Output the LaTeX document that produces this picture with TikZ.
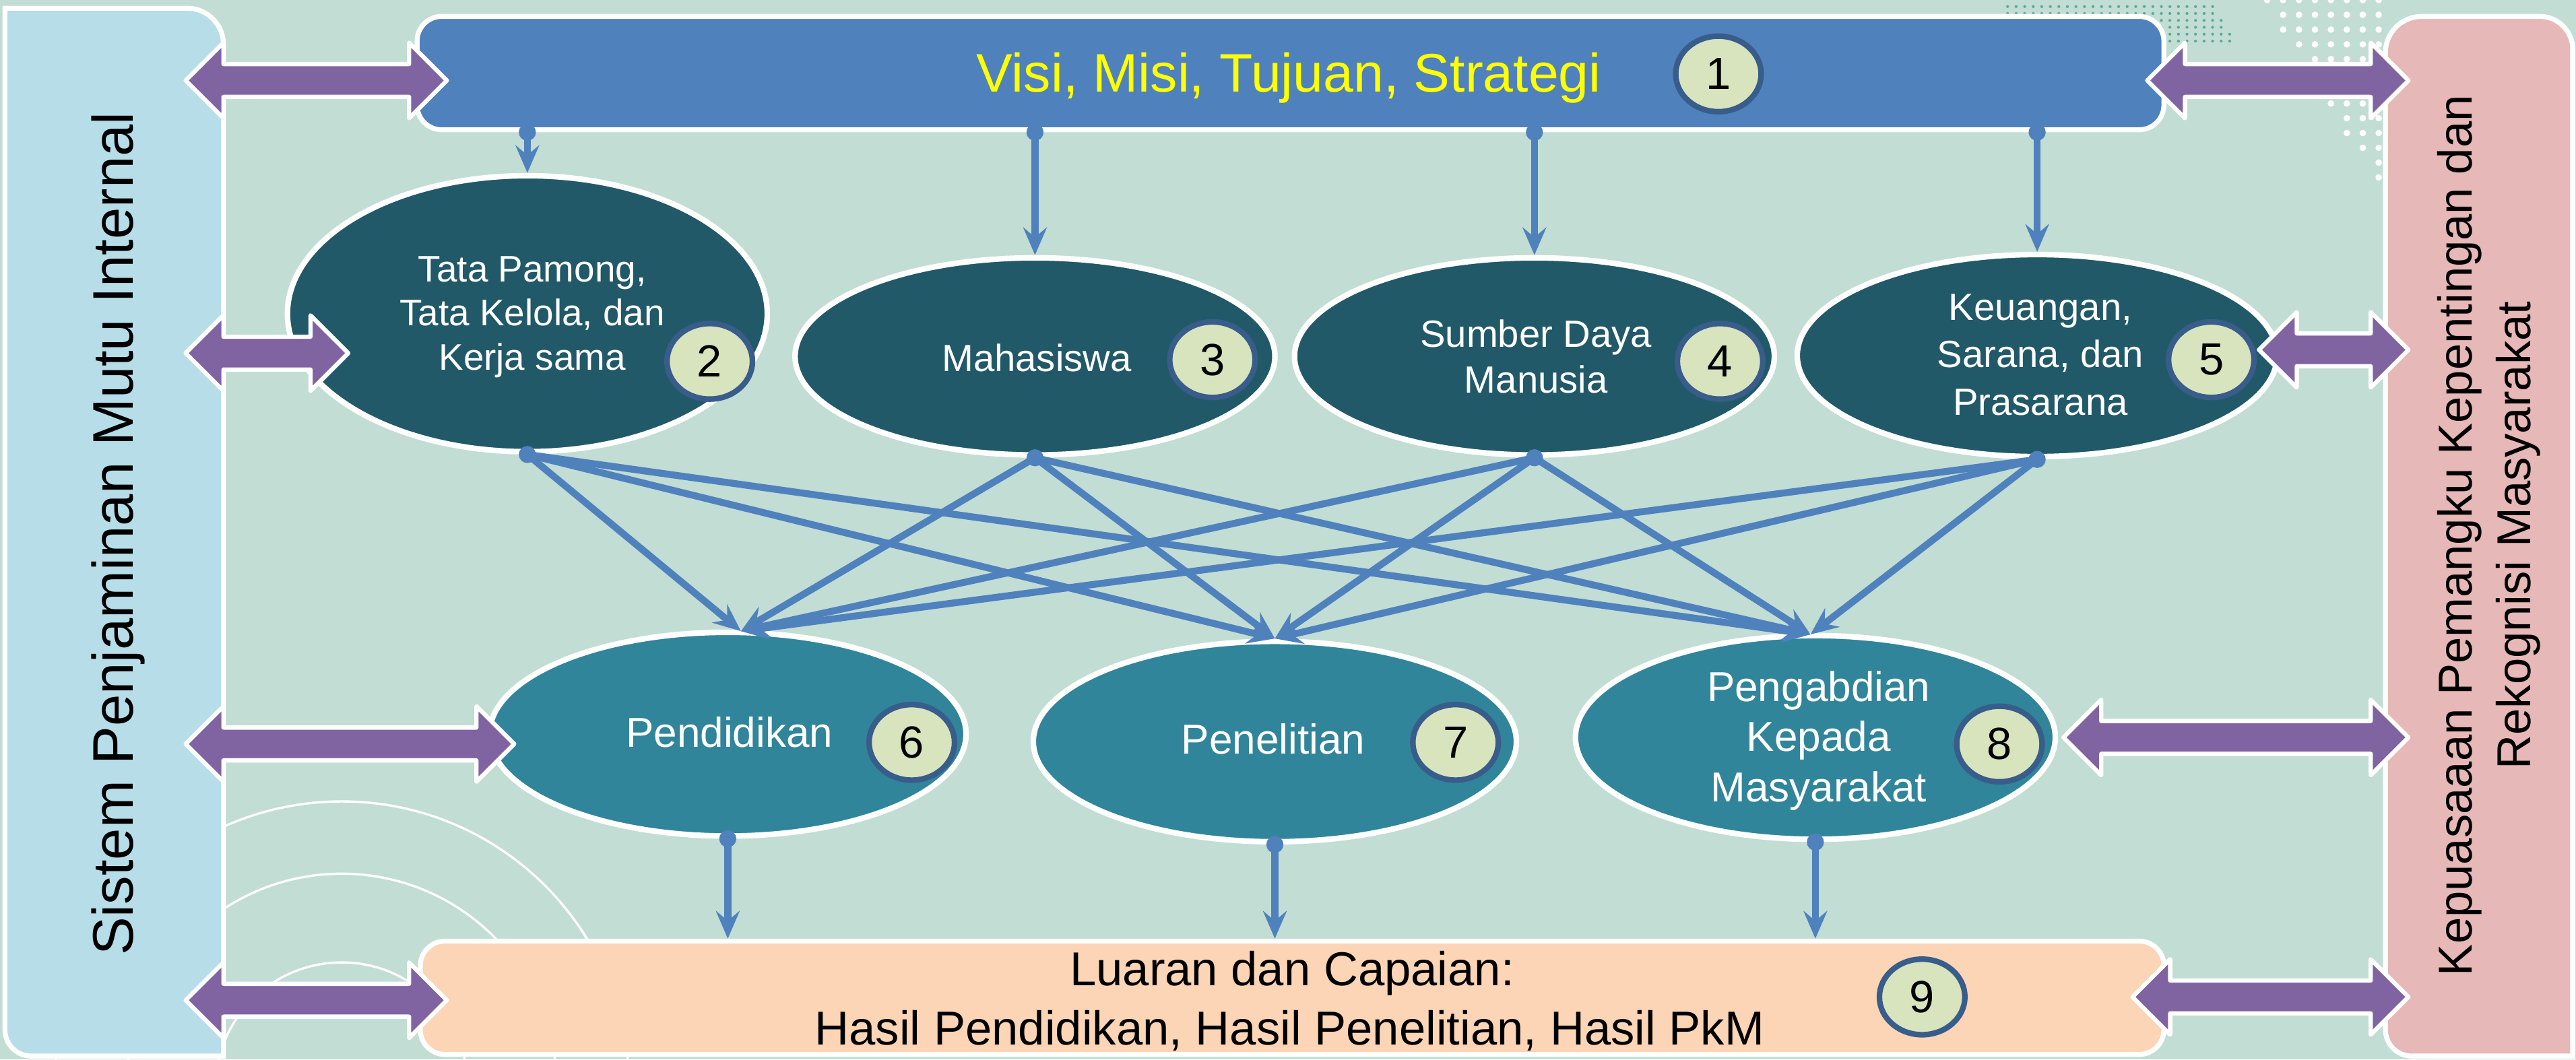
\documentclass[tikz,border=0pt]{standalone}
\usepackage{fontspec}
\setmainfont{Liberation Sans}
\usetikzlibrary{arrows.meta,shapes.geometric,calc}
\definecolor{bgmint}{HTML}{C2DDD3}
\definecolor{panelblue}{HTML}{B7DDE8}
\definecolor{panelpink}{HTML}{E6B8B7}
\definecolor{barblue}{HTML}{4F81BD}
\definecolor{darkteal}{HTML}{215968}
\definecolor{midteal}{HTML}{31859B}
\definecolor{badgefill}{HTML}{D7E4BD}
\definecolor{badgeline}{HTML}{385D8A}
\definecolor{arrowpurple}{HTML}{8064A2}
\definecolor{peach}{HTML}{FBD5B5}
\definecolor{dotteal}{HTML}{5FA898}
\definecolor{titleyellow}{HTML}{FFFF00}
\newcommand\fsz[2]{\fontsize{#1}{#2}\selectfont}
\newcommand\purplearrow[2]{%
  \filldraw[parrow] (#1) -- ($(#1)+(23,-23)$) -- ($(#1)+(23,-10)$)
    -- ($(#2)+(-23,-10)$) -- ($(#2)+(-23,-23)$) -- (#2)
    -- ($(#2)+(-23,23)$) -- ($(#2)+(-23,10)$) -- ($(#1)+(23,10)$)
    -- ($(#1)+(23,23)$) -- cycle;}
\begin{document}
\begin{tikzpicture}[x=0.025cm,y=-0.025cm,
  bar/.style={draw=white, line width=0.075cm, rounded corners=0.375cm, inner sep=0pt},
  topel/.style={ellipse, fill=darkteal, draw=white, line width=0.085cm, inner sep=0pt},
  botel/.style={ellipse, fill=midteal, draw=white, line width=0.085cm, inner sep=0pt},
  badge/.style={ellipse, fill=badgefill, draw=badgeline, line width=0.085cm,
    minimum width=1.3cm, minimum height=1.15cm, inner sep=0pt, font=\fsz{19.5}{20}},
  conn/.style={draw=barblue, line width=3pt,
    -{Stealth[length=0.42cm,width=0.36cm,inset=0.15cm]}},
  parrow/.style={fill=arrowpurple, draw=white, line width=0.065cm, line join=round},
  etext/.style={text=white, align=center, inner sep=0pt},
  btext/.style={text=black, inner sep=0pt, anchor=base, font=\fsz{20.6}{25.6}},
]
\useasboundingbox (0,0) rectangle (1568,645);
\clip (0,0) rectangle (1568,645);
\fill[bgmint] (0,0) rectangle (1568,645);
% background arcs
\foreach \rr in {1.925,3.275,4.375}{\draw[white,line width=0.035cm] (208,663) circle[radius=\rr cm];}
% teal dots
\foreach \r in {0,...,5}{%
  \pgfmathsetmacro\yy{4+4.2*\r}%
  \pgfmathsetmacro\xmax{1348+2.8*\r}%
  \foreach \c in {0,...,27}{%
    \pgfmathsetmacro\xx{1222+5.2*\c}%
    \ifdim\xx pt<\xmax pt \fill[dotteal] (\xx,\yy) circle[radius=0.022cm];\fi
  }}
% white dots
\foreach \r in {0,...,12}{%
  \pgfmathsetmacro\yy{9*\r}%
  \pgfmathsetmacro\xmin{1378+0.62*\yy}%
  \foreach \c in {0,...,7}{%
    \pgfmathsetmacro\xx{1380+9.7*\c}%
    \ifdim\xx pt>\xmin pt \fill[white] (\xx,\yy) circle[radius=0.05cm];\fi
  }}
% side panels
\filldraw[fill=panelblue, draw=white, line width=0.075cm]
  (3,5) -- (114,5) .. controls (126.15,5) and (136,14.85) .. (136,27)
  -- (136,643) -- (19,643) .. controls (10.16,643) and (3,635.84) .. (3,627) -- cycle;
\filldraw[fill=panelpink, draw=white, line width=0.075cm]
  (1474,10) -- (1546,10) .. controls (1557,10) and (1566,19) .. (1566,30)
  -- (1566,643) -- (1468,643) .. controls (1459.16,643) and (1452,635.84) .. (1452,627)
  -- (1452,32) .. controls (1452,19.85) and (1461.85,10) .. (1474,10) -- cycle;
% bars
\node[bar, fill=barblue, minimum width=26.575cm, minimum height=1.725cm] (top) at (785.5,44.5) {};
\node[bar, fill=peach, minimum width=26.525cm, minimum height=1.725cm] (bot) at (786.5,607.5) {};
% ellipses
\node[topel, minimum width=7.3cm, minimum height=4.2cm] (e2) at (321,191) {};
\node[topel, minimum width=7.3cm, minimum height=3.0cm] (e3) at (630,217) {};
\node[topel, minimum width=7.3cm, minimum height=3.0cm] (e4) at (934,217) {};
\node[topel, minimum width=7.3cm, minimum height=3.075cm] (e5) at (1240,216.5) {};
\node[botel, minimum width=7.25cm, minimum height=3.1cm] (e6) at (443,447) {};
\node[botel, minimum width=7.35cm, minimum height=3.05cm] (e7) at (776,451.5) {};
\node[botel, minimum width=7.3cm, minimum height=3.1cm] (e8) at (1105,449) {};
% connector targets
\coordinate (in6) at ($(e6.north)+(8,1)$);
\coordinate (in7) at ($(e7.north)+(0,0)$);
\coordinate (in8) at ($(e8.north)+(-3,1)$);
% connectors
\foreach \e in {e2,e3,e4,e5}{\draw[conn] (\e.north |- top.south) -- (\e.north);}
\foreach \s in {e2,e3,e4,e5}{\foreach \t in {in6,in7,in8}{\draw[conn] (\s.south) -- (\t);}}
\foreach \e in {e6,e7,e8}{\draw[conn] (\e.south) -- (\e.south |- bot.north);}
\foreach \e in {e2,e3,e4,e5}{%
  \fill[barblue] (\e.north |- top.south) circle[radius=0.13cm];
  \fill[barblue] (\e.south) circle[radius=0.13cm];}
\foreach \e in {e6,e7,e8}{\fill[barblue] (\e.south) circle[radius=0.13cm];}
% purple double arrows
\coordinate (a1l) at (113,49);   \coordinate (a1r) at (272,49);
\coordinate (a2l) at (1307,49);  \coordinate (a2r) at (1466,49);
\coordinate (a3l) at (113,215);  \coordinate (a3r) at (212,215);
\coordinate (a4l) at (1375,213); \coordinate (a4r) at (1466,213);
\coordinate (a5l) at (113,453);  \coordinate (a5r) at (313,453);
\coordinate (a6l) at (1256,449); \coordinate (a6r) at (1466,449);
\coordinate (a7l) at (113,609);  \coordinate (a7r) at (272,609);
\coordinate (a8l) at (1298,607); \coordinate (a8r) at (1466,607);
\purplearrow{a1l}{a1r}
\purplearrow{a2l}{a2r}
\purplearrow{a3l}{a3r}
\purplearrow{a4l}{a4r}
\purplearrow{a5l}{a5r}
\purplearrow{a6l}{a6r}
\purplearrow{a7l}{a7r}
\purplearrow{a8l}{a8r}
% texts
\node[inner sep=0pt, anchor=base, text=titleyellow, font=\fsz{23.5}{28}] (title) at (784.5,56) {Visi, Misi, Tujuan, Strategi};
\node[etext, font=\fsz{16}{19.2}] (t2) at (324,193) {Tata Pamong,\\Tata Kelola, dan\\Kerja sama};
\node[etext, font=\fsz{16.4}{20}] (t3) at (631,218) {Mahasiswa};
\node[etext, font=\fsz{16.4}{20}] (t4) at (935,217) {Sumber Daya\\Manusia};
\node[etext, font=\fsz{16.4}{20.6}] (t5) at (1242,216) {Keuangan,\\Sarana, dan\\Prasarana};
\node[etext, font=\fsz{18.1}{21.7}] (t6) at (444,446) {Pendidikan};
\node[etext, font=\fsz{18.1}{21.7}] (t7) at (775,450) {Penelitian};
\node[etext, font=\fsz{18.1}{21.7}] (t8) at (1107,451) {Pengabdian\\Kepada\\Masyarakat};
\node[btext] (t9a) at (786.5,600) {Luaran dan Capaian:};
\node[btext] (t9b) at (785,636) {Hasil Pendidikan, Hasil Penelitian, Hasil PkM};
\node[inner sep=0pt, anchor=base, rotate=90, font=\fsz{24.8}{28}] (tleft) at (81,325) {Sistem Penjaminan Mutu Internal};
\node[inner sep=0pt, align=center, rotate=90, font=\fsz{20.6}{25.6}] (tright) at (1515,326) {Kepuasaaan Pemangku Kepentingan dan\\Rekognisi Masyarakat};
% badges
\node[badge] (b1) at (1046,45) {1};
\node[badge] (b2) at (432,220) {2};
\node[badge] (b3) at (738,219) {3};
\node[badge] (b4) at (1047,220) {4};
\node[badge] (b5) at (1346,219) {5};
\node[badge] (b6) at (555,452) {6};
\node[badge] (b7) at (886,452) {7};
\node[badge] (b8) at (1217,453) {8};
\node[badge] (b9) at (1170,607) {9};
\end{tikzpicture}
\end{document}
